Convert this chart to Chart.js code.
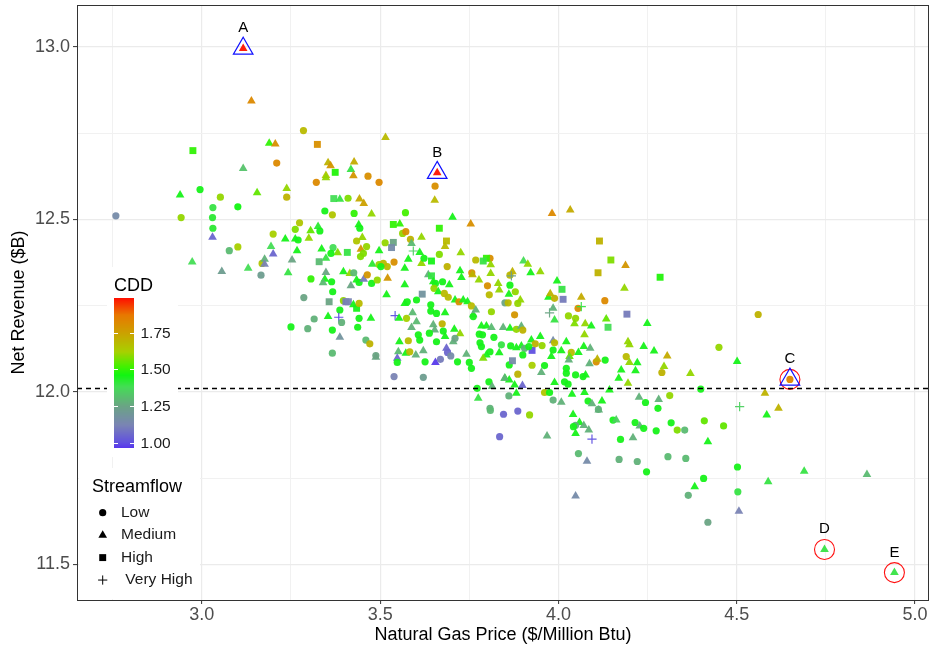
<!DOCTYPE html>
<html><head><meta charset="utf-8">
<script src="https://cdn.jsdelivr.net/npm/chart.js@4.4.1/dist/chart.umd.min.js"></script>
<style>html,body{margin:0;padding:0;background:#fff;}#wrap{width:930px;height:648px;position:relative;}</style>
</head><body><div id="wrap"><canvas id="c" width="930" height="648"></canvas></div>
<script>
// ---------- data ----------
const price = [
3.116,3.139,2.975,3.189,3.206,3.210,3.116,2.939,2.995,3.052,
3.155,3.238,3.238,3.031,3.101,3.285,3.324,3.515,3.660,3.354,
3.361,3.427,3.374,3.418,3.348,3.348,3.425,3.466,3.321,3.497,
3.654,3.653,3.370,3.387,3.410,3.442,3.454,3.345,3.982,4.033,
2.759,2.942,3.030,3.031,3.030,3.077,3.101,2.973,3.056,3.130,
3.166,3.169,3.176,3.176,3.194,3.200,3.200,3.234,3.262,3.262,
3.274,3.267,3.253,3.242,2.907,2.923,3.250,3.366,3.427,3.476,
3.571,3.703,3.754,3.305,3.326,3.331,3.440,3.443,3.537,3.555,
3.563,3.572,3.666,3.270,3.300,3.450,3.434,3.462,3.446,3.585,
3.616,3.686,3.682,3.588,3.537,3.532,3.514,3.593,3.336,3.368,
3.381,3.362,3.408,3.348,3.329,3.497,3.445,3.453,3.478,3.497,
3.509,3.520,3.539,3.502,3.579,3.569,3.611,3.616,3.623,3.644,
3.666,3.726,3.768,3.808,3.798,3.789,3.810,3.688,3.724,3.728,
3.757,3.759,3.810,3.777,3.864,3.306,3.345,3.340,3.348,3.364,
3.397,3.415,3.426,3.434,3.441,3.454,3.464,3.476,3.492,3.521,
3.418,3.367,3.286,3.357,3.397,3.404,3.411,3.425,3.434,3.441,
3.569,3.518,3.618,3.569,3.576,3.602,3.635,3.644,3.649,3.655,
3.651,3.675,3.694,3.663,3.680,3.691,3.710,3.721,3.733,3.745,
3.756,3.806,3.801,3.831,3.834,3.864,3.850,3.859,3.768,3.761,
3.761,3.812,3.387,3.384,3.354,3.392,3.315,3.297,3.366,3.441,
3.474,3.437,3.387,3.460,3.471,3.366,3.542,3.553,3.574,3.591,
3.602,3.588,3.642,3.642,3.658,3.682,3.674,3.649,3.653,3.677,
3.708,3.724,3.607,3.611,3.638,3.658,3.682,3.705,3.710,3.554,
3.579,3.551,3.572,3.583,3.600,3.621,3.548,3.548,3.488,3.488,
3.626,3.655,3.669,3.686,3.689,3.698,3.717,3.742,3.750,3.756,
3.539,3.621,3.784,3.798,3.812,3.845,3.864,3.778,3.787,3.819,
3.780,3.784,3.840,3.866,3.808,3.798,3.834,3.789,3.862,3.850,
3.862,3.805,3.814,3.772,3.775,3.808,3.861,4.115,4.147,4.188,
4.111,4.285,3.902,3.914,3.922,3.949,3.871,3.868,3.879,3.861,
3.893,3.886,3.877,3.996,4.010,4.013,3.972,3.977,3.989,4.064,
4.130,4.055,4.064,3.975,3.985,3.989,4.185,4.192,4.139,4.134,
4.028,4.048,4.045,4.075,4.092,4.073,4.249,3.882,3.896,3.900,
3.985,3.926,3.924,3.949,3.954,3.935,3.882,3.896,3.905,3.900,
3.917,3.989,4.008,4.022,4.036,4.056,4.071,4.089,4.031,3.980,
3.985,4.029,4.195,4.199,4.239,4.268,4.305,4.190,4.199,4.221,
4.216,4.131,4.106,4.109,4.087,4.296,4.290,4.370,4.450,3.871,
3.926,3.961,3.952,3.886,4.022,4.022,4.048,4.069,4.076,4.176,
4.169,3.849,3.877,3.899,3.882,3.989,4.017,4.027,4.195,4.143,
3.961,3.975,3.985,4.008,4.038,4.073,4.083,4.094,4.122,4.112,
4.226,4.244,4.281,4.312,4.399,3.846,3.886,3.919,3.835,3.968,
4.041,4.059,4.048,4.042,4.048,4.071,4.085,4.094,4.113,4.153,
4.162,4.174,4.209,4.056,4.080,4.048,4.170,4.221,4.215,4.228,
4.239,4.279,4.274,4.247,4.316,4.333,4.354,4.307,4.357,4.409,
4.419,4.407,4.382,4.364,4.419,4.508,4.617,4.584,4.463,4.502,
4.689,4.865,4.588,4.503,4.506,4.746,4.942,4.560,4.501,4.649,
4.579,3.809
];
const revenue = [
12.995,12.843,12.699,12.720,12.718,12.663,12.647,12.570,12.586,12.564,
12.577,12.589,12.564,12.534,12.536,12.757,12.717,12.737,12.635,12.664,
12.655,12.666,12.636,12.644,12.627,12.620,12.626,12.625,12.607,12.607,
12.596,12.555,12.560,12.558,12.561,12.559,12.546,12.524,12.517,12.527,
12.510,12.505,12.505,12.474,12.448,12.409,12.420,12.376,12.349,12.358,
12.338,12.372,12.384,12.370,12.421,12.399,12.457,12.443,12.443,12.471,
12.490,12.409,12.382,12.345,12.256,12.243,12.188,12.513,12.517,12.515,
12.519,12.506,12.486,12.467,12.479,12.466,12.484,12.474,12.485,12.486,
12.459,12.464,12.474,12.440,12.445,12.447,12.437,12.421,12.413,12.442,
12.448,12.437,12.421,12.430,12.433,12.418,12.432,12.408,12.414,12.418,
12.403,12.401,12.404,12.387,12.377,12.409,12.392,12.401,12.370,12.369,
12.372,12.363,12.376,12.363,12.384,12.358,12.404,12.372,12.387,12.379,
12.398,12.403,12.382,12.387,12.387,12.379,12.368,12.363,12.351,12.331,
12.345,12.339,12.343,12.324,12.338,12.327,12.326,12.316,12.346,12.319,
12.348,12.343,12.345,12.324,12.317,12.326,12.339,12.314,12.324,12.329,
12.307,12.290,12.273,12.261,12.264,12.261,12.261,12.252,12.242,12.256,
12.310,12.281,12.283,12.256,12.261,12.266,12.339,12.336,12.319,12.314,
12.300,12.319,12.310,12.290,12.285,12.274,12.266,12.261,12.266,12.261,
12.249,12.281,12.307,12.314,12.295,12.309,12.258,12.258,12.237,12.223,
12.218,12.232,12.237,12.216,12.218,12.201,12.211,12.183,12.179,12.213,
12.213,12.187,12.158,12.150,12.139,12.112,12.221,12.213,12.213,12.229,
12.203,12.186,12.252,12.234,12.227,12.229,12.197,12.194,12.179,12.176,
12.181,12.168,12.165,12.150,12.170,12.145,12.160,12.145,12.155,12.145,
12.148,12.116,12.112,12.116,12.107,12.119,12.097,12.085,12.105,12.100,
12.087,12.085,12.094,12.126,12.114,12.104,12.087,12.109,12.085,12.068,
12.044,12.042,12.191,12.191,12.186,12.186,12.184,12.167,12.165,12.158,
12.142,12.131,12.136,12.133,12.116,12.107,12.113,12.097,12.078,12.039,
12.034,12.029,12.015,12.010,11.981,11.952,11.988,12.437,12.382,12.366,
12.345,12.332,12.379,12.370,12.345,12.348,12.348,12.336,12.290,12.283,
12.266,12.256,12.223,12.321,12.297,12.268,12.274,12.284,12.271,12.274,
12.264,12.242,12.247,12.229,12.242,12.208,12.300,12.225,12.187,12.211,
12.220,12.213,12.197,12.197,12.191,12.165,12.198,12.181,12.190,12.179,
12.148,12.120,12.150,12.160,12.134,12.139,12.128,12.133,12.126,12.107,
12.131,12.142,12.119,12.145,12.114,12.114,12.131,12.126,12.102,12.102,
12.121,12.092,12.145,12.136,12.131,12.118,12.104,12.102,12.085,12.084,
12.061,12.092,12.087,12.094,12.081,12.073,12.056,12.053,12.129,12.090,
12.077,12.076,12.056,12.051,12.068,12.054,12.049,12.044,12.049,12.063,
12.039,12.039,12.020,12.018,11.996,12.027,12.029,12.022,12.025,12.005,
11.998,11.998,11.976,11.970,11.993,11.998,11.973,11.965,11.973,11.949,
11.984,11.969,11.978,11.989,12.008,11.935,11.944,11.933,11.870,11.872,
11.934,11.911,11.903,11.899,11.879,11.902,11.889,11.863,11.947,11.918,
11.918,11.862,11.867,11.821,11.799,11.698,11.804,11.798,11.911,11.901,
11.894,11.952,11.887,11.768,11.910,11.889,11.889,11.812,11.807,11.916,
11.855,11.749,11.725,11.700,11.622,11.957,11.952,11.933,11.901,11.782,
11.770,11.760,11.739,11.710,11.654,11.543,11.476,12.224,12.088,12.036,
11.996,11.946
];
const cdd = [
1.98,1.82,1.50,1.50,1.80,1.82,1.32,1.45,1.45,1.60,
1.55,1.60,1.70,1.40,1.46,1.68,1.80,1.68,1.98,1.70,
1.78,1.72,1.48,1.40,1.65,1.60,1.78,1.80,1.82,1.82,
1.80,1.68,1.38,1.40,1.58,1.72,1.75,1.45,1.82,1.72,
1.15,1.60,1.42,1.42,1.05,1.30,1.62,1.38,1.22,1.38,
1.22,1.65,1.28,1.12,1.38,1.05,1.62,1.45,1.45,1.58,
1.65,1.45,1.25,1.40,1.20,1.08,1.45,1.65,1.50,1.60,
1.52,1.45,1.80,1.55,1.42,1.45,1.45,1.45,1.50,1.50,
1.60,1.80,1.50,1.45,1.60,1.60,1.65,1.60,1.78,1.70,
1.60,1.68,1.68,1.30,1.25,1.15,1.60,1.35,1.45,1.38,
1.58,1.45,1.40,1.40,1.30,1.45,1.58,1.58,1.42,1.60,
1.68,1.68,1.80,1.45,1.45,1.45,1.45,1.60,1.45,1.45,
1.58,1.60,1.68,1.80,1.50,1.40,1.60,1.70,1.45,1.45,
1.80,1.70,1.60,1.60,1.68,1.50,1.45,1.30,1.25,1.45,
1.45,1.60,1.30,1.45,1.45,1.10,1.78,1.45,1.60,1.78,
1.25,1.45,1.25,1.25,1.60,1.10,1.12,1.45,1.45,1.68,
1.45,1.45,1.18,1.45,1.45,1.45,1.28,1.40,1.45,1.45,
1.60,1.45,1.45,1.45,1.68,1.68,1.45,1.80,1.45,1.45,
1.68,1.68,1.80,1.60,1.60,1.45,1.25,1.68,1.28,1.28,
1.45,1.60,1.45,0.98,1.45,1.28,1.28,1.28,1.45,1.45,
1.45,1.45,1.18,1.30,1.70,1.30,1.00,1.45,1.62,1.30,
1.30,1.28,1.45,1.45,1.45,1.45,1.70,1.28,1.28,1.45,
1.45,1.60,1.45,1.45,1.45,1.45,1.45,1.28,1.25,1.45,
1.68,1.30,1.45,1.68,1.28,1.28,1.05,1.45,1.25,1.25,
1.45,0.97,1.10,1.05,1.05,1.15,1.45,1.28,1.45,1.45,
1.12,1.22,1.45,1.45,1.30,1.28,1.45,1.45,1.45,1.45,
1.45,1.45,1.40,1.45,1.45,1.45,1.45,1.58,1.45,1.45,
1.45,1.45,1.28,1.45,1.40,1.28,1.28,1.70,1.58,1.78,
1.70,1.48,1.38,1.60,1.45,1.60,1.70,1.22,1.60,1.45,
1.60,1.60,1.78,1.45,1.40,1.10,1.45,1.70,1.70,1.72,
1.82,1.80,1.40,1.25,1.28,1.40,1.60,1.10,1.38,1.55,
1.60,1.60,1.58,1.60,1.45,1.60,1.45,1.60,1.28,1.70,
1.15,1.00,1.45,1.45,1.60,1.70,1.45,1.45,1.28,1.45,
1.45,1.68,1.45,1.45,1.68,1.45,1.45,1.28,1.55,1.45,
1.45,1.28,1.60,1.60,1.45,1.45,1.72,1.68,1.60,1.45,
1.45,1.45,1.80,1.70,1.28,1.60,1.70,1.60,1.60,1.15,
1.62,1.45,1.28,1.70,1.45,1.45,1.45,1.45,1.45,1.45,
1.45,1.28,1.45,1.05,1.45,1.45,1.45,1.45,1.60,1.45,
1.65,1.45,1.28,1.28,1.45,1.45,1.45,1.28,1.45,1.28,
1.28,1.45,1.28,1.60,1.45,1.05,1.05,1.60,1.05,1.28,
1.45,1.45,1.28,1.45,1.45,1.28,1.28,1.00,1.28,1.45,
1.35,1.45,1.28,1.30,1.15,1.15,1.28,1.28,1.45,1.28,
1.45,1.45,1.45,1.45,1.45,1.58,1.30,1.30,1.30,1.55,
1.45,1.45,1.45,1.28,1.25,1.35,1.70,1.45,1.55,1.45,
1.40,1.30,1.40,1.40,1.12,1.40,1.40,1.70,1.45,1.83,
1.70,1.30
];
const flow = [
'M','M','H','M','M','L','M','M','L','L',
'M','M','L','L','L','L','H','M','M','M',
'M','M','H','M','M','M','M','L','L','L',
'L','M','H','M','L','M','M','L','M','M',
'L','L','L','L','M','L','L','M','M','M',
'L','L','M','M','M','M','L','M','M','L',
'L','M','M','M','L','L','L','L','L','M',
'L','M','M','M','M','L','M','L','H','M',
'L','L','H','L','M','M','L','L','M','L',
'M','H','M','M','H','H','L','V','M','L',
'M','L','H','M','H','M','L','L','M','L',
'L','L','L','L','M','M','M','M','L','H',
'L','M','L','L','H','H','M','L','M','M',
'L','M','M','M','L','L','M','M','M','L',
'M','M','L','M','L','M','L','L','L','M',
'M','L','L','H','L','H','H','M','H','L',
'M','M','H','M','L','L','M','H','M','L',
'L','L','M','M','L','L','M','L','M','M',
'L','L','L','M','M','L','L','L','M','M',
'L','L','L','V','M','L','L','L','L','L',
'M','L','M','L','L','L','V','M','L','M',
'M','M','L','L','L','M','L','M','M','L',
'M','M','L','L','L','L','M','M','L','M',
'L','M','M','L','M','M','M','L','L','M',
'L','M','L','M','L','L','L','M','L','L',
'L','L','M','M','M','M','M','L','L','L',
'L','L','L','L','L','M','M','M','L','M',
'M','L','M','L','M','L','L','H','H','M',
'H','H','M','M','M','M','M','V','L','M',
'M','L','L','M','H','H','M','M','L','M',
'L','L','V','V','M','M','M','H','H','M',
'L','L','M','M','M','M','M','L','M','L',
'M','H','M','M','L','L','M','M','L','L',
'L','L','M','M','L','M','M','M','M','M',
'L','M','M','M','M','M','M','L','M','M',
'M','L','L','M','M','M','L','M','L','H',
'L','L','M','L','L','L','L','L','M','M',
'M','M','M','M','M','M','L','L','M','M',
'L','L','L','M','M','M','L','M','M','L',
'M','L','M','L','L','L','L','L','L','M',
'M','M','L','L','M','M','M','V','M','L',
'M','L','M','L','M','M','L','L','L','M',
'L','L','L','L','L','L','L','L','L','L',
'M','L','M','L','L','V','M','M','L','L',
'M','M','M','L','M','M','M','L','M','L',
'M','L'
];
const flowLevels = ['L','M','H','V'];
const flowNames = ['Low','Medium','High',' Very High'];
const xTicks = [2.75,3.0,3.25,3.5,3.75,4.0,4.25,4.5,4.75,5.0];
const yTicks = [11.5,11.75,12.0,12.25,12.5,12.75,13.0];
const cddTicks = [1.00,1.25,1.50,1.75];
const cddLimits = [0.964,1.986];
const refLine = 12.01;
const annLabel = ['A','B','C','D','E'];
const annPrice = [3.116,3.660,4.649,4.746,4.942];
const annRevenue = [12.995,12.635,12.036,11.543,11.476];
const annTriangle = [true,true,true,false,false];
const annCircle = [false,false,true,true,true];

// ---------- styling ----------
const FONT = '"Liberation Sans", Arial, Helvetica, sans-serif';
Chart.defaults.font.family = FONT;
const cddStops = [[0.96,'#5533ee'],[1.00,'#6050e0'],[1.12,'#7a84b4'],[1.25,'#6aa484'],[1.38,'#44dd55'],
  [1.46,'#11f511'],[1.52,'#44f000'],[1.62,'#a8d000'],[1.75,'#cca000'],[1.87,'#e87800'],[1.99,'#ff0a00']];
function hex(h){return [parseInt(h.slice(1,3),16),parseInt(h.slice(3,5),16),parseInt(h.slice(5,7),16)];}
function cddColor(v,a){
  let c;
  if(v<=cddStops[0][0]) c=hex(cddStops[0][1]);
  else if(v>=cddStops[cddStops.length-1][0]) c=hex(cddStops[cddStops.length-1][1]);
  else for(let i=0;i<cddStops.length-1;i++){
    if(v<=cddStops[i+1][0]){const t=(v-cddStops[i][0])/(cddStops[i+1][0]-cddStops[i][0]);
      const p=hex(cddStops[i][1]),q=hex(cddStops[i+1][1]);c=p.map((x,k)=>Math.round(x+(q[k]-x)*t));break;}
  }
  return 'rgba('+c[0]+','+c[1]+','+c[2]+','+(a==null?1:a)+')';
}
const shapeOf={L:'circle',M:'triangle',H:'rect',V:'cross'};
const radiusOf={L:3.6,M:5,H:4.9,V:4.6};
const isMajor=v=>Math.abs(v*2-Math.round(v*2))<1e-6;

const pts = price.map((p,i)=>({x:p,y:revenue[i]}));
const triPts = annPrice.map((p,i)=>({x:p,y:annRevenue[i]})).filter((d,i)=>annTriangle[i]);
const cirPts = annPrice.map((p,i)=>({x:p,y:annRevenue[i]})).filter((d,i)=>annCircle[i]);

const overlay = {
  id:'overlay',
  afterDatasetsDraw(chart){
    const {ctx,chartArea:a,scales:{x,y}}=chart;
    ctx.save();
    ctx.beginPath();ctx.rect(a.left,a.top,a.right-a.left,a.bottom-a.top);ctx.clip();
    const yy=Math.round(y.getPixelForValue(refLine))+0.5;
    ctx.setLineDash([5,4]);ctx.strokeStyle='#000';ctx.lineWidth=1.35;
    ctx.beginPath();ctx.moveTo(a.left,yy);ctx.lineTo(a.right,yy);ctx.stroke();
    ctx.setLineDash([]);
    ctx.fillStyle='#000';ctx.font='15px '+FONT;ctx.textAlign='center';ctx.textBaseline='alphabetic';
    annLabel.forEach((t,i)=>{ctx.fillText(t,x.getPixelForValue(annPrice[i]),y.getPixelForValue(annRevenue[i])-16);});
    ctx.restore();
  },
  afterDraw(chart){
    const {ctx,chartArea:a}=chart;
    ctx.save();
    // CDD colour bar legend
    ctx.fillStyle='#fff';ctx.fillRect(107,267,71,190);
    ctx.fillStyle='#000';ctx.font='18px '+FONT;ctx.textAlign='left';ctx.textBaseline='alphabetic';
    ctx.fillText('CDD',114,291);
    const bx=114,bw=20,bt=298,bb=448;
    for(let py=bt;py<bb;py++){
      const v=cddLimits[1]-(py+0.5-bt)/(bb-bt)*(cddLimits[1]-cddLimits[0]);
      ctx.fillStyle=cddColor(v);ctx.fillRect(bx,py,bw,1);
    }
    ctx.strokeStyle='#fff';ctx.lineWidth=1;
    ctx.font='15.5px '+FONT;ctx.textBaseline='middle';
    cddTicks.forEach(v=>{
      const py=Math.round(bt+(cddLimits[1]-v)/(cddLimits[1]-cddLimits[0])*(bb-bt))+0.5;
      ctx.beginPath();ctx.moveTo(bx,py);ctx.lineTo(bx+4,py);ctx.moveTo(bx+bw-4,py);ctx.lineTo(bx+bw,py);ctx.stroke();
      ctx.fillStyle='#1a1a1a';ctx.fillText(v.toFixed(2),140.5,py);
    });
    // Streamflow shape legend
    ctx.fillStyle='#fff';ctx.fillRect(79,468,121,131);
    ctx.fillStyle='#000';ctx.font='18px '+FONT;ctx.textBaseline='alphabetic';
    ctx.fillText('Streamflow',92,492);
    ctx.font='15.5px '+FONT;ctx.textBaseline='middle';
    flowLevels.forEach((f,i)=>{
      const cy=512.7+i*22.45, cx=102.7;
      ctx.fillStyle='#000';ctx.strokeStyle='#000';
      Chart.helpers.drawPoint(ctx,{pointStyle:shapeOf[f],radius:radiusOf[f],borderWidth:f==='V'?1.2:0,rotation:0},cx,cy);
      ctx.fillStyle='#1a1a1a';ctx.fillText(flowNames[i],121,cy);
    });
    // panel border
    ctx.strokeStyle='#333';ctx.lineWidth=1;
    ctx.strokeRect(a.left+0.5,a.top+0.5,a.right-a.left-1,a.bottom-a.top);
    ctx.restore();
  }
};

function gridOpts(){
  return {
    color:c=>(c.tick&&isMajor(c.tick.value))?'#ebebeb':'#f1f1f1',
    lineWidth:c=>(c.tick&&isMajor(c.tick.value))?1.2:1,
    drawTicks:true,tickLength:4,tickWidth:1,
    tickColor:c=>(c.tick&&isMajor(c.tick.value))?'#333':'rgba(0,0,0,0)'
  };
}
const ZERO=()=>({left:0,top:0,right:0,bottom:0});
function noPad(s){
  s.paddingLeft=0;s.paddingRight=0;s.paddingTop=0;s.paddingBottom=0;
  if(s._margins){s._margins.left=0;s._margins.right=0;s._margins.top=0;s._margins.bottom=0;}
  s.getPadding=ZERO;
}

new Chart(document.getElementById('c'),{
  type:'scatter',
  data:{datasets:[
    {data:triPts,pointStyle:'triangle',pointRadius:11.3,backgroundColor:'rgba(0,0,0,0)',borderColor:'#1010ff',borderWidth:1.2,pointHoverRadius:11.3},
    {data:cirPts,pointStyle:'circle',pointRadius:10,backgroundColor:'rgba(0,0,0,0)',borderColor:'#ff1010',borderWidth:1.1,pointHoverRadius:10},
    {data:pts,
     pointStyle:c=>shapeOf[flow[c.dataIndex]],
     pointRadius:c=>radiusOf[flow[c.dataIndex]],
     pointBackgroundColor:c=>cddColor(cdd[c.dataIndex],0.95),
     pointBorderColor:c=>cddColor(cdd[c.dataIndex],0.95),
     pointBorderWidth:c=>flow[c.dataIndex]==='V'?1.2:0}
  ]},
  options:{
    responsive:false,animation:false,devicePixelRatio:1,
    layout:{autoPadding:false,padding:{top:5,right:1,left:0,bottom:0}},
    plugins:{legend:{display:false},tooltip:{enabled:false}},
    scales:{
      x:{type:'linear',min:2.650,max:5.039,
        afterBuildTicks:s=>{s.ticks=xTicks.map(v=>({value:v}));},
        afterFit:s=>{s.height=48;noPad(s);},
        ticks:{callback:v=>isMajor(v)?v.toFixed(1):'',color:'#4d4d4d',font:{size:18},maxRotation:0,autoSkip:false,padding:0},
        grid:gridOpts(),border:{display:false},
        title:{display:true,text:'Natural Gas Price ($/Million Btu)',color:'#000',font:{size:18},padding:{top:0,bottom:2}}},
      y:{type:'linear',min:11.3966,max:13.121,
        afterBuildTicks:s=>{s.ticks=yTicks.map(v=>({value:v}));},
        afterFit:s=>{s.width=77;noPad(s);},
        ticks:{callback:v=>isMajor(v)?v.toFixed(1):'',color:'#4d4d4d',font:{size:18},autoSkip:false,padding:3},
        grid:gridOpts(),border:{display:false},
        title:{display:true,text:'Net Revenue ($B)',color:'#000',font:{size:18},padding:{top:8,bottom:0}}}
    }
  },
  plugins:[overlay]
});
</script></body></html>
